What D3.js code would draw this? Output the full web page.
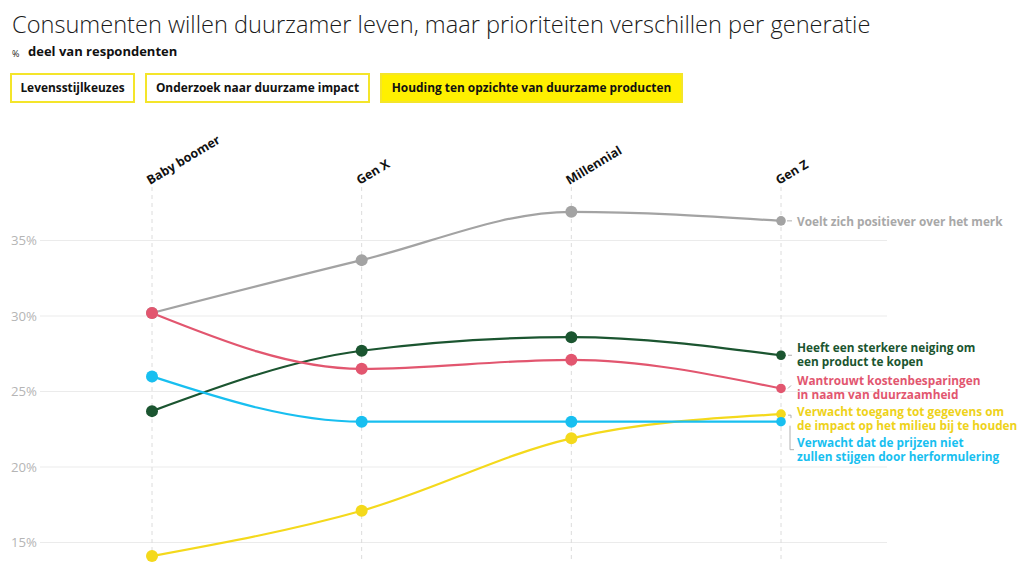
<!DOCTYPE html>
<html><head><meta charset="utf-8">
<script src="https://cdn.jsdelivr.net/npm/d3@7/dist/d3.min.js"></script>
<style>
body{margin:0;background:#fff;}
svg{display:block;font-family:"Open Sans",Lato,sans-serif;}
</style></head><body>
<svg id="c" width="1024" height="573"></svg>
<script>
const categories = ["Baby boomer","Gen X","Millennial","Gen Z"];
const yTicks = [15,20,25,30,35];
const seriesNames = ["Voelt zich positiever over het merk","Heeft een sterkere neiging om een product te kopen","Wantrouwt kostenbesparingen in naam van duurzaamheid","Verwacht toegang tot gegevens om de impact op het milieu bij te houden","Verwacht dat de prijzen niet zullen stijgen door herformulering"];
const grey   = [30.2, 33.7, 36.9, 36.3];
const green  = [23.7, 27.7, 28.6, 27.4];
const pink   = [30.2, 26.5, 27.1, 25.2];
const yellow = [14.1, 17.1, 21.9, 23.5];
const blue   = [26.0, 23.0, 23.0, 23.0];
const labelLines = [
  ["Voelt zich positiever over het merk"],
  ["Heeft een sterkere neiging om","een product te kopen"],
  ["Wantrouwt kostenbesparingen","in naam van duurzaamheid"],
  ["Verwacht toegang tot gegevens om","de impact op het milieu bij te houden"],
  ["Verwacht dat de prijzen niet","zullen stijgen door herformulering"]
];
const buttons = ["Levensstijlkeuzes","Onderzoek naar duurzame impact","Houding ten opzichte van duurzame producten"];

const colors = ["#a3a3a3","#1b5530","#e2566f","#f4d91c","#18bff0"];
const labelColors = ["#a8a8a8","#1b5530","#e2566f","#eed21a","#18bff0"];
const series = [grey, green, pink, yellow, blue];

const svg = d3.select("#c");
svg.append("text").attr("x",12).attr("y",33).attr("font-size",23.6).attr("font-weight",300).attr("fill","#1a1a1a").text("Consumenten willen duurzamer leven, maar prioriteiten verschillen per generatie");
svg.append("text").attr("x",12).attr("y",57).attr("font-size",9).attr("fill","#222").text("%");
svg.append("text").attr("x",28).attr("y",56).attr("font-size",13).attr("font-weight",700).attr("fill","#111").text("deel van respondenten");

// buttons
const bx = [10,145,380], bw=[125,225,303];
buttons.forEach((b,i)=>{
  svg.append("rect").attr("x",bx[i]+1).attr("y",74).attr("width",bw[i]-2).attr("height",28)
    .attr("fill", i===2?"#fff000":"#fff").attr("stroke","#f4e52a").attr("stroke-width",2);
  svg.append("text").attr("x",bx[i]+bw[i]/2).attr("y",92).attr("text-anchor","middle")
    .attr("font-size",11.9).attr("font-weight",700).attr("fill","#111").text(b);
});

const x = d3.scalePoint().domain(categories).range([152,781]);
const y = d3.scaleLinear().domain([15,35]).range([542.5,240.5]);

// gridlines
const g = svg.append("g");
g.selectAll("line.grid").data(yTicks).join("line").attr("x1",40).attr("x2",887)
  .attr("y1",d=>y(d)).attr("y2",d=>y(d)).attr("stroke","#ebebeb").attr("stroke-width",1);
g.selectAll("text.yt").data(yTicks).join("text").attr("x",37).attr("y",d=>y(d)+4.5)
  .attr("text-anchor","end").attr("font-size",13.2).attr("fill","#b5b5b5").text(d=>d+"%");
// vertical dashed
g.selectAll("line.v").data(categories).join("line").attr("x1",d=>x(d)).attr("x2",d=>x(d))
  .attr("y1",187).attr("y2",560).attr("stroke","#dcdcdc").attr("stroke-dasharray","4,4");
// category labels
g.selectAll("text.cat").data(categories).join("text")
  .attr("transform",d=>`translate(${x(d)-2},${185}) rotate(-31)`)
  .attr("font-size",12.5).attr("font-weight",700).attr("fill","#111").text(d=>d);

const line = d3.line().x((d,i)=>x(categories[i])).y(d=>y(d)).curve(d3.curveMonotoneX);
series.forEach((s,k)=>{
  svg.append("path").attr("d",line(s)).attr("fill","none").attr("stroke",colors[k]).attr("stroke-width",2.2);
});
series.forEach((s,k)=>{
  svg.selectAll(null).data(s).join("circle").attr("cx",(d,i)=>x(categories[i])).attr("cy",d=>y(d))
    .attr("r",(d,i)=>i===3?4.8:6).attr("fill",colors[k]);
});

// right labels
const labelY = [222, 348, 381, 412, 443];
const lx = 797;
labelLines.forEach((lines,k)=>{
  const t = svg.append("text").attr("x",lx).attr("y",labelY[k]+4).attr("font-size",11.8).attr("font-weight",700).attr("fill",labelColors[k]);
  lines.forEach((l,j)=>t.append("tspan").attr("x",lx).attr("dy",j===0?0:14).text(l));
});
// leaders
const lc = "#b0b0b0";
const xe = x("Gen Z");
svg.append("line").attr("x1",xe+6).attr("x2",xe+11).attr("y1",y(grey[3])).attr("y2",y(grey[3])).attr("stroke",lc);
svg.append("line").attr("x1",xe+7).attr("x2",xe+11).attr("y1",y(green[3])).attr("y2",y(green[3])).attr("stroke",lc);
svg.append("line").attr("x1",xe+7).attr("x2",xe+10).attr("y1",y(pink[3])).attr("y2",y(pink[3])-3).attr("stroke",lc);
svg.append("path").attr("d",`M${xe+7},${y(yellow[3])+1}h3v3`).attr("fill","none").attr("stroke",lc);
svg.append("path").attr("d",`M${xe+9},${y(blue[3])+4}V${y(blue[3])+28}h4`).attr("fill","none").attr("stroke",lc);
</script>
</body></html>
